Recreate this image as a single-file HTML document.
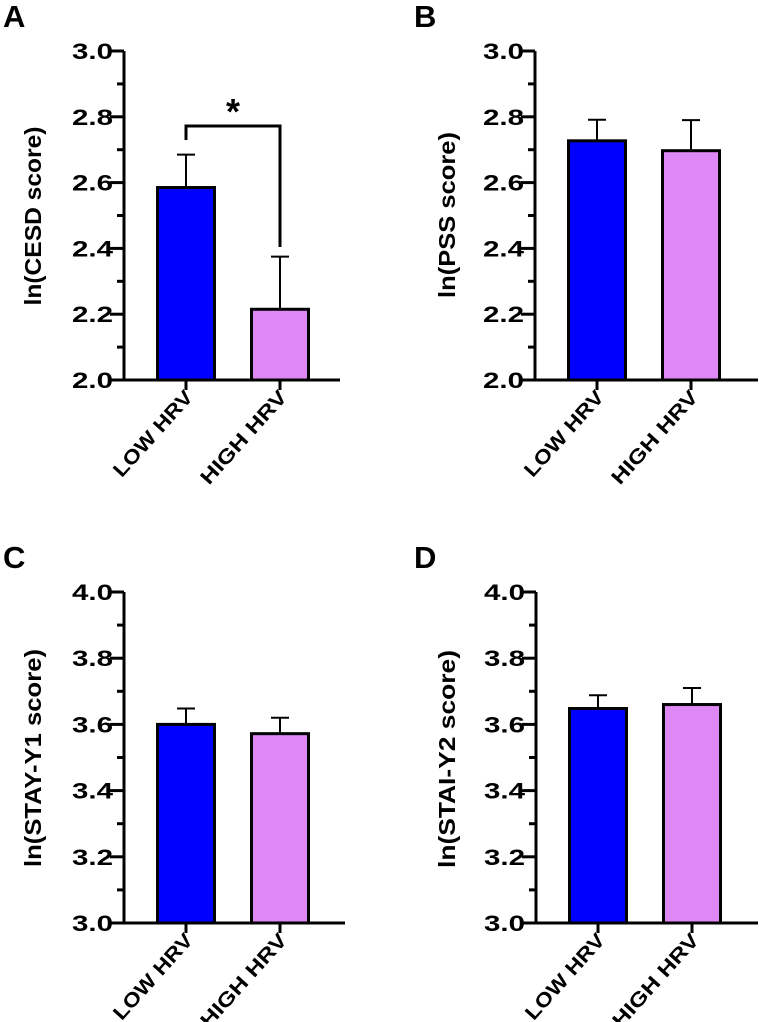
<!DOCTYPE html>
<html><head><meta charset="utf-8"><style>
html,body{margin:0;padding:0;background:#fff;}
svg{display:block;font-family:"Liberation Sans",Arial,sans-serif;font-weight:bold;}
</style></head><body>
<svg id="fig" width="759" height="1022" viewBox="0 0 759 1022" xmlns="http://www.w3.org/2000/svg"></svg>
<script>
const categories = ["LOW HRV", "HIGH HRV"];
const panelLetters = ["A", "B", "C", "D"];
const yTitles = ["ln(CESD score)", "ln(PSS score)", "ln(STAY-Y1 score)", "ln(STAI-Y2 score)"];
const meansA = [2.585, 2.215];
const errsA = [0.10, 0.16];
const meansB = [2.727, 2.697];
const errsB = [0.064, 0.093];
const meansC = [3.600, 3.572];
const errsC = [0.048, 0.048];
const meansD = [3.648, 3.660];
const errsD = [0.040, 0.050];
const yTicksAB = ["2.0", "2.2", "2.4", "2.6", "2.8", "3.0"];
const yTicksCD = ["3.0", "3.2", "3.4", "3.6", "3.8", "4.0"];
const sigLabel = "*";

const NS = "http://www.w3.org/2000/svg";
const svg = document.getElementById("fig");
function mk(tag, attrs, parent) {
  const e = document.createElementNS(NS, tag);
  for (const k in attrs) e.setAttribute(k, attrs[k]);
  (parent || svg).appendChild(e);
  return e;
}
const colors = ["#0000ff", "#dd88f5"];
const layouts = [
  {ax:124, top:51, bot:380, right:340, lx:3, ly:27, tx:41, ty:216},
  {ax:535, top:51, bot:380, right:758, lx:414, ly:27, tx:455, ty:215},
  {ax:124, top:592, bot:923, right:345, lx:3, ly:568, tx:41, ty:758},
  {ax:536, top:592, bot:923, right:758, lx:414, ly:568, tx:455, ty:759}
];
const panelData = [
  {m:meansA, e:errsA, ticks:yTicksAB},
  {m:meansB, e:errsB, ticks:yTicksAB},
  {m:meansC, e:errsC, ticks:yTicksCD},
  {m:meansD, e:errsD, ticks:yTicksCD}
];
panelData.forEach((pd, i) => {
  const L = layouts[i];
  const g = mk("g", {});
  
  
  const ymin = parseFloat(pd.ticks[0]), ymax = parseFloat(pd.ticks[pd.ticks.length-1]);
  const y = v => L.bot - (v - ymin) / (ymax - ymin) * (L.bot - L.top);
  const x = j => L.ax + 62 + j * 94;
  const lt = mk("text", {x:L.lx, y:L.ly, "font-size":31}, g);
  lt.textContent = panelLetters[i];
  
  
  const yt = mk("text", {x:L.tx, y:L.ty, "font-size":23, "text-anchor":"middle", transform:`rotate(-90 ${L.tx} ${L.ty})`, textLength: (yTitles[i].length*12.8).toFixed(0), lengthAdjust:"spacingAndGlyphs"}, g);
  yt.textContent = yTitles[i];
  
  
  pd.m.forEach((v, j) => {
    const cx = x(j);
    const eb = mk("line", {x1:cx, x2:cx, y1:y(v), y2:y(v + pd.e[j]), stroke:"#000", "stroke-width":2}, g);
    
    
    const cap = mk("line", {x1:cx-9, x2:cx+9, y1:y(v + pd.e[j]), y2:y(v + pd.e[j]), stroke:"#000", "stroke-width":2}, g);
    
    
    const r = mk("rect", {x:cx-28.5, y:y(v), width:57, height:L.bot - y(v), fill:colors[j], stroke:"#000", "stroke-width":3}, g);
    
    
    const tk = mk("line", {x1:cx, x2:cx, y1:L.bot, y2:L.bot+10, stroke:"#000", "stroke-width":3}, g);
    
    
    const lx = cx + 8, ly = L.bot + 18;
    const xl = mk("text", {x:lx, y:ly, "font-size":20, "text-anchor":"end", transform:`rotate(-48 ${lx} ${ly})`, textLength: j === 0 ? 108 : 118, lengthAdjust:"spacingAndGlyphs"}, g);
    xl.textContent = categories[j];
    
    
  });
  const ya = mk("line", {x1:L.ax, x2:L.ax, y1:L.top, y2:L.bot + 1.5, stroke:"#000", "stroke-width":3}, g);
  
  
  const xa = mk("line", {x1:L.ax - 14, x2:L.right, y1:L.bot, y2:L.bot, stroke:"#000", "stroke-width":3}, g);
  
  
  pd.ticks.forEach((t, k) => {
    const v = parseFloat(t);
    const tl = mk("line", {x1:L.ax - 14, x2:L.ax, y1:y(v), y2:y(v), stroke:"#000", "stroke-width":3}, g);
    
    
    const tx = mk("text", {x:L.ax - 11, y:y(v) + 8, "font-size":22, "text-anchor":"end", textLength:41, lengthAdjust:"spacingAndGlyphs"}, g);
    tx.textContent = t;
    
    
    if (k < pd.ticks.length - 1) {
      const mv = v + (ymax - ymin) / (pd.ticks.length - 1) / 2;
      const mt = mk("line", {x1:L.ax - 7, x2:L.ax, y1:y(mv), y2:y(mv), stroke:"#000", "stroke-width":3}, g);
      
      
    }
  });
  if (i === 0) {
    const by = 126;
    const br = mk("polyline", {points:`${x(0)},140 ${x(0)},${by} ${x(1)},${by} ${x(1)},247`, fill:"none", stroke:"#000", "stroke-width":3}, g);
    
    
    const st = mk("text", {x:(x(0)+x(1))/2, y:124, "font-size":36, "text-anchor":"middle"}, g);
    st.textContent = sigLabel;
    
    
  }
});
</script>
</body></html>
